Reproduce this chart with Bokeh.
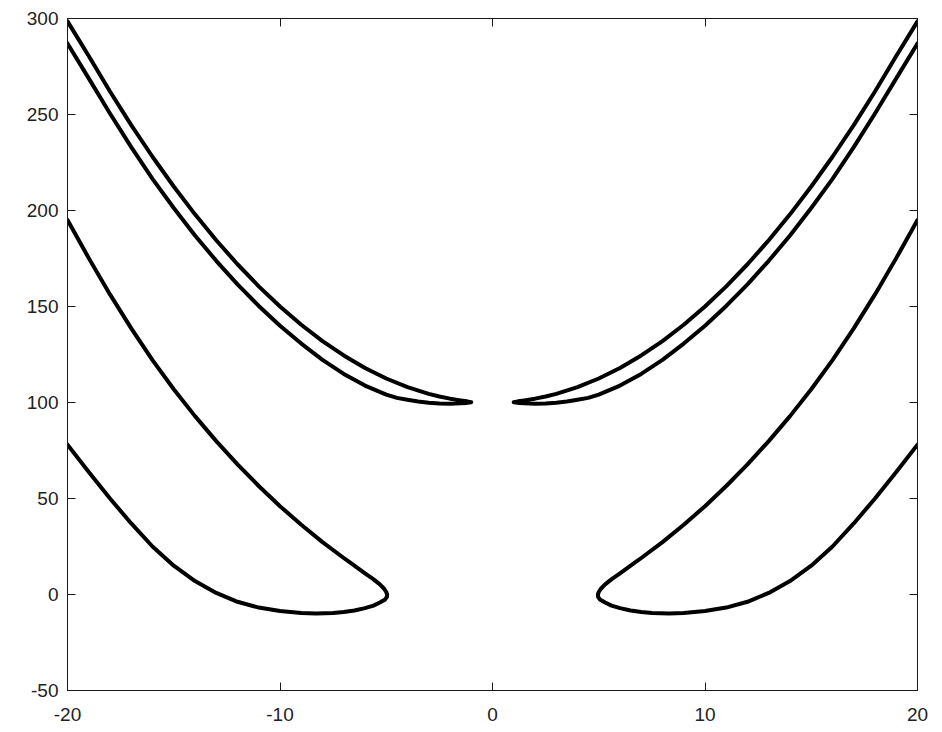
from bokeh.plotting import figure
from bokeh.models import LinearAxis, Range1d, FixedTicker
from bokeh.embed import file_html
from bokeh.resources import INLINE

# ---- data ----
x_ticks = [-20, -10, 0, 10, 20]
y_ticks = [-50, 0, 50, 100, 150, 200, 250, 300]
x_labels = {-20: "-20", -10: "-10", 0: "0", 10: "10", 20: "20"}
y_labels = {-50: "-50", 0: "0", 50: "50", 100: "100", 150: "150", 200: "200", 250: "250", 300: "300"}

# upper pair, left: outer branch down to the tip, then inner branch back out
upper_left_x = [-20, -19, -18, -17, -16, -15, -14, -13, -12, -11, -10, -9, -8, -7, -6, -5, -4, -3, -2.5, -2,
                -1.5, -1.2, -1.0,
                -1.2, -1.5, -2, -2.5, -3, -3.5, -4, -4.5, -5, -6, -7, -8, -9, -10, -11, -12, -13, -14,
                -15, -16, -17, -18, -19, -20]
upper_left_y = [298.5, 280.5, 262, 244.5, 228, 212.5, 198, 184.5, 172, 160.5, 150, 140.5, 132, 124.5, 118,
                112.5, 108, 104.5, 103.1, 102, 101.1, 100.6, 100.1,
                99.8, 99.6, 99.4, 99.5, 99.9, 100.5, 101.4, 102.4, 104.1, 108.8, 114.9, 122.2, 130.7, 140,
                150.3, 161.5, 173.8, 187, 201.3, 216.5, 233, 250.5, 268.8, 287]

upper_right_x = [20, 19, 18, 17, 16, 15, 14, 13, 12, 11, 10, 9, 8, 7, 6, 5, 4, 3, 2.5, 2,
                 1.5, 1.2, 1.0,
                 1.2, 1.5, 2, 2.5, 3, 3.5, 4, 4.5, 5, 6, 7, 8, 9, 10, 11, 12, 13, 14,
                 15, 16, 17, 18, 19, 20]
upper_right_y = [298.5, 280.5, 262, 244.5, 228, 212.5, 198, 184.5, 172, 160.5, 150, 140.5, 132, 124.5, 118,
                 112.5, 108, 104.5, 103.1, 102, 101.1, 100.6, 100.1,
                 99.8, 99.6, 99.4, 99.5, 99.9, 100.5, 101.4, 102.4, 104.1, 108.8, 114.9, 122.2, 130.7, 140,
                 150.3, 161.5, 173.8, 187, 201.3, 216.5, 233, 250.5, 268.8, 287]

# lower pair, left: upper branch down to the tip, then lower branch back out
lower_left_x = [-20, -19, -18, -17, -16, -15, -14, -13, -12, -11, -10, -9, -8, -7, -6.71, -6,
                -5.61, -5.3, -5.1, -5.0, -4.96, -4.97, -5.05,
                -5.3, -5.6, -6, -6.5, -7, -7.5, -8.3, -9, -10, -11, -12, -13, -14, -15, -16, -17, -18,
                -19, -20]
lower_left_y = [195, 175.2, 156.3, 138.6, 122.1, 106.9, 92.9, 79.9, 67.8, 56.5, 46.0, 36.3, 27.3, 19.0, 16.7, 11.0,
                8.0, 5.3, 3.0, 1.3, 0.0, -1.3, -2.6,
                -4.2, -5.8, -7.1, -8.3, -9.1, -9.6, -9.9, -9.6, -8.6, -6.8, -3.8, 0.8, 7, 15, 25, 37, 50,
                63.8, 78]

lower_right_x = [20, 19, 18, 17, 16, 15, 14, 13, 12, 11, 10, 9, 8, 7, 6.71, 6,
                 5.61, 5.3, 5.1, 5.0, 4.96, 4.97, 5.05,
                 5.3, 5.6, 6, 6.5, 7, 7.5, 8.3, 9, 10, 11, 12, 13, 14, 15, 16, 17, 18,
                 19, 20]
lower_right_y = [195, 175.2, 156.3, 138.6, 122.1, 106.9, 92.9, 79.9, 67.8, 56.5, 46.0, 36.3, 27.3, 19.0, 16.7, 11.0,
                 8.0, 5.3, 3.0, 1.3, 0.0, -1.3, -2.6,
                 -4.2, -5.8, -7.1, -8.3, -9.1, -9.6, -9.9, -9.6, -8.6, -6.8, -3.8, 0.8, 7, 15, 25, 37, 50,
                 63.8, 78]

p = figure(width=934, height=731, output_backend="svg", toolbar_location=None,
           x_range=Range1d(-20, 20), y_range=Range1d(-50, 300),
           min_border_left=67, min_border_right=17, min_border_top=18, min_border_bottom=41,
           background_fill_color="white", border_fill_color="white")
p.grid.visible = False
p.outline_line_color = "#1a1a1a"
p.outline_line_width = 1

FONT = "Liberation Sans"
for ax, ticks, labels, standoff in ((p.xaxis[0], x_ticks, x_labels, 17),
                                     (p.yaxis[0], y_ticks, y_labels, 9)):
    ax.ticker = FixedTicker(ticks=ticks)
    ax.major_label_overrides = labels
    ax.major_tick_in = 8
    ax.major_tick_out = 0
    ax.minor_tick_line_color = None
    ax.axis_line_color = "#1a1a1a"
    ax.major_tick_line_color = "#1a1a1a"
    ax.major_label_text_font = FONT
    ax.major_label_text_font_size = "19px"
    ax.major_label_text_color = "#222222"
    ax.major_label_standoff = standoff

for loc, ticks in (("right", y_ticks), ("above", x_ticks)):
    ax = LinearAxis(ticker=FixedTicker(ticks=ticks))
    ax.major_tick_in = 8
    ax.major_tick_out = 0
    ax.minor_tick_line_color = None
    ax.axis_line_color = "#1a1a1a"
    ax.major_tick_line_color = "#1a1a1a"
    ax.major_label_text_font_size = "0px"
    ax.major_label_text_color = None
    ax.major_label_standoff = 0
    p.add_layout(ax, loc)

for xs, ys in ((upper_left_x, upper_left_y), (upper_right_x, upper_right_y),
               (lower_left_x, lower_left_y), (lower_right_x, lower_right_y)):
    p.line(xs, ys, line_color="black", line_width=4, line_join="round", line_cap="round")

open("out.html", "w").write(file_html(p, INLINE))
